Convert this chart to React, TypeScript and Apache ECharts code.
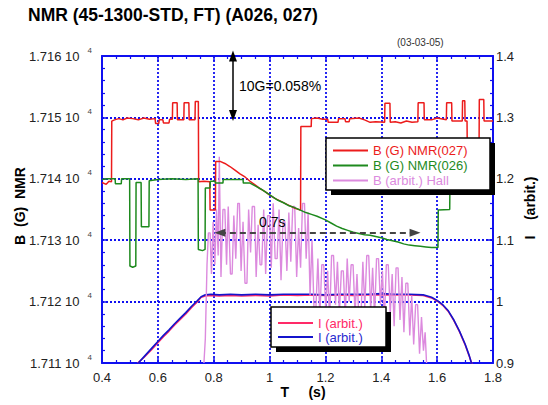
import React, { useEffect, useRef } from 'react';
import * as echarts from 'echarts';

const FONT = '"Liberation Sans", Arial, Helvetica, sans-serif';
const BLUE = '#1010f0';

const chartTitle = 'NMR (45-1300-STD, FT) (A026, 027)';
const dateStamp = '(03-03-05)';
const leftAxisName = 'B  (G)  NMR';
const rightAxisName = 'I    (arbit.)';
const xAxisName = 'T     (s)';
const fieldNote = '10G=0.058%';
const timeNote = '0.7s';

const seriesNames = ['B (G) NMR(027)', 'B (G) NMR(026)', 'B (arbit.) Hall', 'I (arbit.)', 'I (arbit.) '];

// B (G) NMR(027)  [t (s), B (G)]
const nmr027: [number, number][] = [
  [0.400, 17139.4], [0.415, 17139.1], [0.425, 17139.6], [0.434, 17139.5], [0.435, 17149.4],
  [0.445, 17149.6], [0.460, 17149.8], [0.475, 17149.6], [0.490, 17149.9], [0.510, 17149.8],
  [0.530, 17149.6], [0.550, 17149.9], [0.570, 17149.7], [0.590, 17149.8], [0.592, 17149.0],
  [0.603, 17149.0], [0.605, 17149.6], [0.618, 17149.6], [0.620, 17149.1], [0.640, 17149.1],
  [0.642, 17149.7], [0.652, 17149.7], [0.653, 17152.4], [0.669, 17152.4], [0.670, 17149.6],
  [0.693, 17149.6], [0.694, 17152.4], [0.711, 17152.4], [0.712, 17149.6], [0.733, 17149.6],
  [0.734, 17152.6], [0.745, 17152.6], [0.746, 17139.5], [0.765, 17139.6], [0.786, 17139.5],
  [0.787, 17134.9], [0.806, 17134.9], [0.807, 17142.8], [0.825, 17142.8], [0.840, 17142.5],
  [0.858, 17142.0], [0.876, 17141.4], [0.894, 17140.8], [0.912, 17140.3], [0.930, 17139.6],
  [0.948, 17139.0], [0.966, 17138.4], [0.984, 17137.9], [1.002, 17137.3], [1.019, 17136.8],
  [1.037, 17136.4], [1.055, 17136.0], [1.073, 17135.6], [1.091, 17135.2], [1.111, 17134.9],
  [1.112, 17148.5], [1.149, 17148.5], [1.150, 17149.8], [1.170, 17149.9], [1.190, 17149.7],
  [1.208, 17149.7], [1.210, 17149.2], [1.245, 17149.2], [1.247, 17149.8], [1.270, 17149.8],
  [1.272, 17149.3], [1.285, 17149.3], [1.287, 17149.8], [1.320, 17149.9], [1.340, 17149.6],
  [1.360, 17149.2], [1.380, 17149.3], [1.412, 17149.2], [1.413, 17152.3], [1.431, 17152.3],
  [1.432, 17149.2], [1.450, 17149.3], [1.470, 17149.1], [1.490, 17149.4], [1.510, 17149.2],
  [1.531, 17149.3], [1.532, 17152.4], [1.553, 17152.4], [1.554, 17149.6], [1.580, 17149.6],
  [1.600, 17149.9], [1.633, 17149.6], [1.634, 17152.4], [1.652, 17152.4], [1.653, 17149.4],
  [1.690, 17149.4], [1.691, 17152.7], [1.699, 17152.7], [1.700, 17149.4], [1.707, 17149.4],
  [1.708, 17144.5], [1.750, 17144.5], [1.751, 17152.9], [1.767, 17152.9], [1.768, 17149.4],
  [1.800, 17149.4],
];

// B (G) NMR(026)  [t (s), B (G)]
const nmr026: [number, number][] = [
  [0.400, 17139.9], [0.420, 17140.0], [0.447, 17140.0], [0.448, 17139.2], [0.469, 17139.2],
  [0.470, 17140.0], [0.499, 17140.0], [0.500, 17125.8], [0.510, 17125.6], [0.521, 17125.8],
  [0.522, 17139.4], [0.540, 17139.4], [0.541, 17132.2], [0.568, 17132.2], [0.569, 17139.7],
  [0.600, 17139.9], [0.650, 17140.0], [0.700, 17139.9], [0.744, 17140.0], [0.745, 17128.5],
  [0.760, 17128.3], [0.769, 17128.5], [0.770, 17138.5], [0.787, 17138.5], [0.788, 17139.6],
  [0.805, 17139.6], [0.806, 17139.3], [0.833, 17139.3], [0.834, 17139.9], [0.905, 17139.9],
  [0.906, 17139.3], [0.930, 17139.3], [0.950, 17138.8], [0.970, 17138.3], [0.990, 17137.7],
  [1.010, 17137.1], [1.030, 17136.5], [1.050, 17136.1], [1.070, 17135.6], [1.090, 17135.3],
  [1.110, 17134.9], [1.130, 17134.5], [1.150, 17134.2], [1.170, 17133.9], [1.200, 17133.3],
  [1.220, 17132.8], [1.240, 17132.3], [1.260, 17131.9], [1.280, 17131.6], [1.300, 17131.3],
  [1.320, 17131.1], [1.340, 17130.9], [1.360, 17130.8], [1.380, 17130.6], [1.400, 17130.4],
  [1.420, 17130.1], [1.440, 17129.9], [1.460, 17129.7], [1.480, 17129.4], [1.500, 17129.2],
  [1.520, 17129.1], [1.540, 17129.0], [1.560, 17128.9], [1.580, 17128.8], [1.603, 17128.8],
  [1.604, 17134.9], [1.645, 17135.0], [1.646, 17140.0], [1.800, 17140.0],
];

// B (arbit.) Hall  [t (s), value on right axis]
const hall: [number, number][] = [
  [0.765, 0.900], [0.770, 0.940], [0.776, 1.060], [0.781, 1.112], [0.787, 1.112],
  [0.792, 1.045], [0.798, 1.130], [0.804, 1.060], [0.810, 1.150], [0.816, 1.075],
  [0.820, 1.236], [0.826, 1.040], [0.833, 1.150], [0.840, 1.150], [0.846, 1.060],
  [0.852, 1.155], [0.860, 1.045], [0.866, 1.045], [0.872, 1.140], [0.879, 1.070],
  [0.886, 1.160], [0.892, 1.160], [0.898, 1.050], [0.905, 1.130], [0.912, 1.030],
  [0.919, 1.030], [0.925, 1.150], [0.932, 1.080], [0.938, 1.155], [0.946, 1.155],
  [0.952, 1.040], [0.959, 1.125], [0.966, 1.060], [0.972, 1.060], [0.979, 1.150],
  [0.986, 1.045], [0.993, 1.140], [1.000, 1.140], [1.006, 1.055], [1.013, 1.160],
  [1.020, 1.070], [1.027, 1.070], [1.034, 1.150], [1.041, 1.035], [1.048, 1.130],
  [1.055, 1.130], [1.062, 1.050], [1.069, 1.145], [1.076, 1.065], [1.083, 1.155],
  [1.090, 1.155], [1.097, 1.040], [1.104, 1.120], [1.111, 1.055], [1.118, 1.160],
  [1.125, 1.160], [1.131, 1.070], [1.138, 1.145], [1.145, 1.010], [1.152, 1.100],
  [1.159, 0.990], [1.166, 0.990], [1.173, 1.070], [1.180, 0.975], [1.187, 1.060],
  [1.194, 1.060], [1.201, 0.985], [1.208, 1.050], [1.215, 0.970], [1.222, 1.075],
  [1.229, 1.075], [1.236, 0.995], [1.243, 1.065], [1.250, 0.980], [1.257, 1.050],
  [1.264, 1.050], [1.271, 0.975], [1.278, 1.070], [1.285, 1.000], [1.292, 1.060],
  [1.299, 1.060], [1.306, 0.980], [1.313, 1.045], [1.320, 0.970], [1.327, 0.970],
  [1.334, 1.065], [1.341, 0.990], [1.348, 1.075], [1.355, 1.075], [1.362, 0.985],
  [1.369, 1.055], [1.376, 0.975], [1.383, 1.070], [1.390, 1.070], [1.397, 0.995],
  [1.404, 1.050], [1.411, 0.965], [1.418, 1.060], [1.425, 1.060], [1.432, 0.980],
  [1.439, 1.045], [1.446, 0.960], [1.453, 1.055], [1.460, 1.055], [1.467, 0.970],
  [1.474, 1.040], [1.481, 0.950], [1.488, 1.030], [1.495, 1.030], [1.502, 0.945],
  [1.509, 1.010], [1.516, 0.930], [1.523, 0.995], [1.530, 0.995], [1.537, 0.915],
  [1.544, 0.975], [1.551, 0.920], [1.557, 0.950], [1.562, 0.900],
];

// I (arbit.) — two traces
const currentA: [number, number][] = [
  [0.528, 0.900], [0.550, 0.909], [0.580, 0.923], [0.600, 0.933], [0.620, 0.943],
  [0.640, 0.952], [0.660, 0.962], [0.680, 0.971], [0.700, 0.980], [0.720, 0.990],
  [0.740, 0.999], [0.755, 1.007], [0.770, 1.009], [0.790, 1.010], [0.820, 1.009],
  [0.860, 1.010], [0.900, 1.009], [0.950, 1.010], [1.000, 1.009], [1.050, 1.011],
  [1.100, 1.010], [1.150, 1.011], [1.200, 1.010], [1.250, 1.011], [1.300, 1.010],
  [1.350, 1.011], [1.400, 1.011], [1.450, 1.011], [1.500, 1.011], [1.550, 1.010],
  [1.580, 1.006], [1.600, 1.001], [1.620, 0.994], [1.640, 0.984], [1.660, 0.969],
  [1.680, 0.951], [1.700, 0.930], [1.715, 0.911], [1.725, 0.898],
];
const currentB: [number, number][] = [
  [0.530, 0.900], [0.550, 0.910], [0.580, 0.925], [0.600, 0.935], [0.620, 0.945],
  [0.640, 0.954], [0.660, 0.964], [0.680, 0.973], [0.700, 0.982], [0.720, 0.992],
  [0.740, 1.001], [0.755, 1.008], [0.770, 1.011], [0.790, 1.012], [0.820, 1.011],
  [0.860, 1.012], [0.900, 1.011], [0.950, 1.012], [1.000, 1.011], [1.050, 1.012],
  [1.100, 1.012], [1.150, 1.012], [1.200, 1.011], [1.250, 1.012], [1.300, 1.012],
  [1.350, 1.012], [1.400, 1.013], [1.450, 1.012], [1.500, 1.012], [1.550, 1.011],
  [1.580, 1.007], [1.600, 1.002], [1.620, 0.995], [1.640, 0.985], [1.660, 0.970],
  [1.680, 0.952], [1.700, 0.931], [1.715, 0.912], [1.724, 0.898],
];

// annotation arrows (data coordinates)
const fieldArrow = { t: 0.869, from: 17160, to: 17150.3 };
const timeArrow = { from: 0.822, to: 1.521, level: 17131.2 };

const xRange = [0.4, 1.8];
const xStep = 0.2;
const bRange = [17110, 17160];
const bStep = 10;
const iRange = [0.9, 1.4];
const iStep = 0.1;

const colors = ['#ec1c1c', '#1e8a1e', '#dc8ade', '#ff2a68', '#1414cc'];

export default function App() {
  const ref = useRef<HTMLDivElement>(null);
  useEffect(() => {
    if (!ref.current) return;
    const chart = echarts.init(ref.current, undefined, { renderer: 'svg' });
    const tickCommon = {
      axisLine: { show: true, lineStyle: { color: BLUE, width: 2 } },
      axisTick: { show: true, inside: true, length: 5, lineStyle: { color: BLUE, width: 1.5 } },
    };
    const option: any = {
      animation: false,
      backgroundColor: '#ffffff',
      textStyle: { fontFamily: FONT },
      grid: { left: 102, right: 55, top: 56, bottom: 42 },
      xAxis: [
        {
          type: 'value', min: xRange[0], max: xRange[1], interval: xStep, position: 'bottom',
          ...tickCommon,
          minorTick: { show: true, splitNumber: 4, length: 3, lineStyle: { color: BLUE, width: 1.2 } },
          splitLine: { show: true, lineStyle: { color: BLUE, width: 1.8, type: [2, 2] } },
          axisLabel: { margin: 8, fontSize: 13, color: '#222', fontFamily: FONT,
            formatter: (v: number) => String(+v.toFixed(1)) },
        },
        {
          type: 'value', min: xRange[0], max: xRange[1], interval: xStep, position: 'top',
          ...tickCommon,
          minorTick: { show: true, splitNumber: 4, length: 3, lineStyle: { color: BLUE, width: 1.2 } },
          splitLine: { show: false },
          axisLabel: { show: false },
        },
      ],
      yAxis: [
        {
          type: 'value', min: bRange[0], max: bRange[1], interval: bStep, position: 'left',
          ...tickCommon,
          minorTick: { show: true, splitNumber: 5, length: 3, lineStyle: { color: BLUE, width: 1.2 } },
          splitLine: { show: true, lineStyle: { color: BLUE, width: 1.8, type: [2, 2] } },
          axisLabel: {
            margin: 10, color: '#222', fontFamily: FONT,
            formatter: (v: number) => `{m|${(v / 10000).toFixed(3)} 10}{s|4}`,
            rich: {
              m: { fontSize: 13, color: '#222', fontFamily: FONT },
              s: { fontSize: 8, color: '#444', fontFamily: FONT, padding: [0, 0, 12, 8] },
            },
          },
        },
        {
          type: 'value', min: iRange[0], max: iRange[1], interval: iStep, position: 'right',
          ...tickCommon,
          minorTick: { show: true, splitNumber: 5, length: 3, lineStyle: { color: BLUE, width: 1.2 } },
          splitLine: { show: false },
          axisLabel: { margin: 3, fontSize: 13, color: '#222', fontFamily: FONT,
            formatter: (v: number) => String(+v.toFixed(1)) },
        },
      ],
      legend: [
        {
          show: true, orient: 'vertical', left: 333, top: 143, padding: 0, itemGap: 0,
          itemWidth: 35, itemHeight: 2, icon: 'rect', selectedMode: false, z: 20,
          textStyle: { fontSize: 13, lineHeight: 15, fontFamily: FONT },
          data: [
            { name: seriesNames[0], textStyle: { color: colors[0] } },
            { name: seriesNames[1], textStyle: { color: colors[1] } },
            { name: seriesNames[2], textStyle: { color: colors[2] } },
          ],
        },
        {
          show: true, orient: 'vertical', left: 278, top: 316, padding: 0, itemGap: 0,
          itemWidth: 35, itemHeight: 2, icon: 'rect', selectedMode: false, z: 20,
          textStyle: { fontSize: 13, lineHeight: 14, fontFamily: FONT },
          formatter: (n: string) => n.trim(),
          data: [
            { name: seriesNames[3], textStyle: { color: colors[3] } },
            { name: seriesNames[4], textStyle: { color: '#2a2ad0' } },
          ],
        },
      ],
      series: [
        {
          name: seriesNames[3], type: 'line', xAxisIndex: 0, yAxisIndex: 1, data: currentA,
          showSymbol: false, color: colors[3], lineStyle: { width: 1.6, color: colors[3] }, z: 2,
        },
        {
          name: seriesNames[4], type: 'line', xAxisIndex: 0, yAxisIndex: 1, data: currentB,
          showSymbol: false, color: colors[4], lineStyle: { width: 1.6, color: colors[4] }, z: 2,
        },
        {
          name: seriesNames[2], type: 'line', xAxisIndex: 0, yAxisIndex: 1, data: hall,
          showSymbol: false, color: colors[2], lineStyle: { width: 1.4, color: colors[2] }, z: 3,
        },
        {
          name: seriesNames[0], type: 'line', xAxisIndex: 0, yAxisIndex: 0, data: nmr027,
          showSymbol: false, color: colors[0], lineStyle: { width: 1.5, color: colors[0] }, z: 3,
          markLine: {
            silent: true, symbol: ['triangle', 'triangle'], symbolSize: [8, 11],
            label: { show: false },
            lineStyle: { color: '#000', width: 1.5, type: 'solid' },
            itemStyle: { color: '#000' },
            data: [[
              { coord: [fieldArrow.t, fieldArrow.from] },
              { coord: [fieldArrow.t, fieldArrow.to] },
            ]],
          },
        },
        {
          name: seriesNames[1], type: 'line', xAxisIndex: 0, yAxisIndex: 0, data: nmr026,
          showSymbol: false, color: colors[1], lineStyle: { width: 1.5, color: colors[1] }, z: 3,
          markLine: {
            silent: true, symbol: ['triangle', 'triangle'], symbolSize: [8, 11],
            label: { show: false },
            lineStyle: { color: '#444', width: 2, type: [6, 4] },
            itemStyle: { color: '#000' },
            data: [[
              { coord: [timeArrow.from, timeArrow.level] },
              { coord: [timeArrow.to, timeArrow.level] },
            ]],
          },
        },
      ],
      graphic: [
        { type: 'text', left: 28, top: 6, z: 30,
          style: { text: chartTitle, font: `bold 17.5px ${FONT}`, fill: '#000' } },
        { type: 'text', left: 397, top: 37, z: 30,
          style: { text: dateStamp, font: `10px ${FONT}`, fill: '#333' } },
        { type: 'text', x: 20, y: 206, rotation: Math.PI / 2, z: 30,
          style: { text: leftAxisName, font: `bold 14px ${FONT}`, fill: '#000',
            align: 'center', verticalAlign: 'middle' } },
        { type: 'text', x: 530, y: 208, rotation: Math.PI / 2, z: 30,
          style: { text: rightAxisName, font: `bold 14px ${FONT}`, fill: '#000',
            align: 'center', verticalAlign: 'middle' } },
        { type: 'text', x: 303, y: 392, z: 30,
          style: { text: xAxisName, font: `bold 14px ${FONT}`, fill: '#000',
            align: 'center', verticalAlign: 'middle' } },
        { type: 'text', x: 239, y: 86, z: 30,
          style: { text: fieldNote, font: `14px ${FONT}`, fill: '#000',
            align: 'left', verticalAlign: 'middle' } },
        { type: 'text', x: 259, y: 222, z: 30,
          style: { text: timeNote, font: `14px ${FONT}`, fill: '#000',
            align: 'left', verticalAlign: 'middle' } },
        // legend 1 box with hard shadow
        { type: 'rect', z: 10, shape: { x: 331, y: 143, width: 164, height: 52 },
          style: { fill: '#000' } },
        { type: 'rect', z: 11, shape: { x: 326, y: 138, width: 164, height: 52 },
          style: { fill: '#fff', stroke: '#000', lineWidth: 1.5 } },
        // legend 2 box with hard shadow
        { type: 'rect', z: 10, shape: { x: 276, y: 312, width: 115, height: 40 },
          style: { fill: '#000' } },
        { type: 'rect', z: 11, shape: { x: 271, y: 307, width: 115, height: 40 },
          style: { fill: '#fff', stroke: '#000', lineWidth: 1.5 } },
      ],
    };
    chart.setOption(option);
    return () => chart.dispose();
  }, []);
  return (
    <div
      ref={ref}
      style={{ position: 'fixed', left: 0, top: 0, width: 548, height: 405, background: '#fff' }}
    />
  );
}
